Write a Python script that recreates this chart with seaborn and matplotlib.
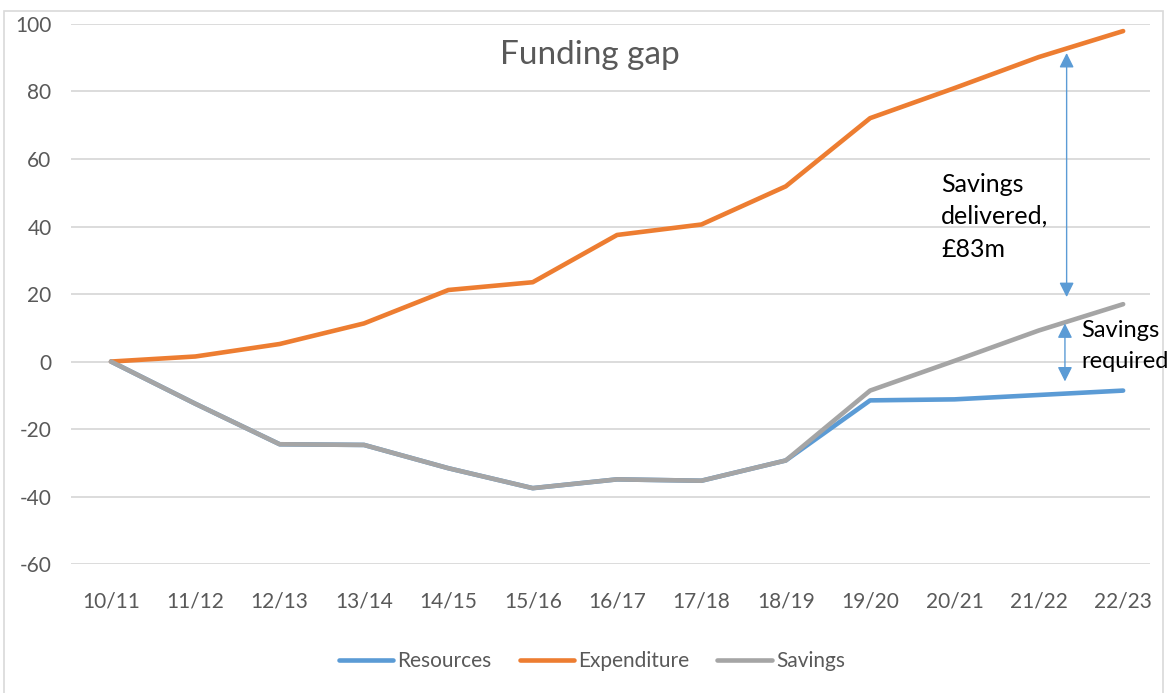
import pandas as pd
import seaborn as sns
import matplotlib.pyplot as plt
from matplotlib.patches import Rectangle

# data
years = ['10/11', '11/12', '12/13', '13/14', '14/15', '15/16', '16/17',
         '17/18', '18/19', '19/20', '20/21', '21/22', '22/23']
resources = [0, -12.5, -24.5, -24.7, -31.6, -37.5, -34.9, -35.3, -29.3, -11.5, -11.2, -9.9, -8.6]
expenditure = [0, 1.5, 5.2, 11.3, 21.2, 23.5, 37.5, 40.6, 51.9, 72.1, 81.0, 90.2, 97.9]
savings = [0, -12.5, -24.5, -24.7, -31.6, -37.5, -34.9, -35.3, -29.3, -8.6, 0.2, 9.2, 17.0]

series = ['Resources', 'Expenditure', 'Savings']
colors = {'Resources': '#5B9BD5', 'Expenditure': '#ED7D31', 'Savings': '#A5A5A5'}

df = pd.DataFrame({'idx': range(len(years)), 'year': years,
                   'Resources': resources, 'Expenditure': expenditure, 'Savings': savings})
df_long = df.melt(id_vars=['idx', 'year'], value_vars=series, var_name='series', value_name='value')

sns.set_style('white')
plt.rcParams['font.family'] = ['Lato', 'DejaVu Sans']
plt.rcParams['axes.unicode_minus'] = False
text_col = '#595959'

fig = plt.figure(figsize=(11.76, 6.93), dpi=100)
ax = fig.add_axes([0.0604, 0.186, 0.9176, 0.7794])

sns.lineplot(data=df_long, x='idx', y='value', hue='series', hue_order=series,
             palette=colors, linewidth=3.3, sort=False, ax=ax, legend=False)

ax.set_xlim(-0.474, 12.32)
ax.set_ylim(-60, 100)
ax.set_yticks(range(-60, 101, 20))
ax.set_xticks(range(len(years)))
ax.set_xticklabels(years)
ax.set_xlabel('')
ax.set_ylabel('')
ax.grid(axis='y', color='#D9D9D9', linewidth=1.3)
ax.set_axisbelow(True)
for s in ax.spines.values():
    s.set_visible(False)
ax.tick_params(axis='both', length=0, labelsize=15, labelcolor=text_col)
ax.tick_params(axis='x', pad=20)
ax.tick_params(axis='y', pad=14)

# arrows and notes
arrow = dict(arrowstyle='<|-|>', color='#5B9BD5', lw=1.0, mutation_scale=22, shrinkA=0, shrinkB=0)
ax.annotate('', xy=(11.33, 91.4), xytext=(11.33, 19.1), arrowprops=arrow)
ax.annotate('', xy=(11.31, 11.3), xytext=(11.31, -5.9), arrowprops=arrow)
ax.text(9.84, 56, 'Savings\ndelivered,\n£83m', fontsize=18, color='black',
        ha='left', va='top', linespacing=1.5)
ax.text(11.5, 12.3, 'Savings\nrequired', fontsize=17, color='black',
        ha='left', va='top', linespacing=1.6)

fig.text(590 / 1176, 1 - 55 / 693, 'Funding gap', fontsize=24, color=text_col,
         ha='center', va='center')

handles = [plt.Line2D([], [], color=colors[s], linewidth=3.3) for s in series]
fig.legend(handles, series, loc='center', bbox_to_anchor=(592 / 1176, 1 - 661 / 693),
           ncol=3, frameon=False, fontsize=15, labelcolor=text_col,
           handlelength=2.6, handletextpad=0.2, columnspacing=1.35)

# chart area border, kept behind everything
fig.patches.append(Rectangle((0.003, -0.01), 0.986, 0.994, transform=fig.transFigure,
                             fill=False, edgecolor='#D9D9D9', linewidth=1.2, zorder=-1))

fig.savefig('out.png', dpi=100)
